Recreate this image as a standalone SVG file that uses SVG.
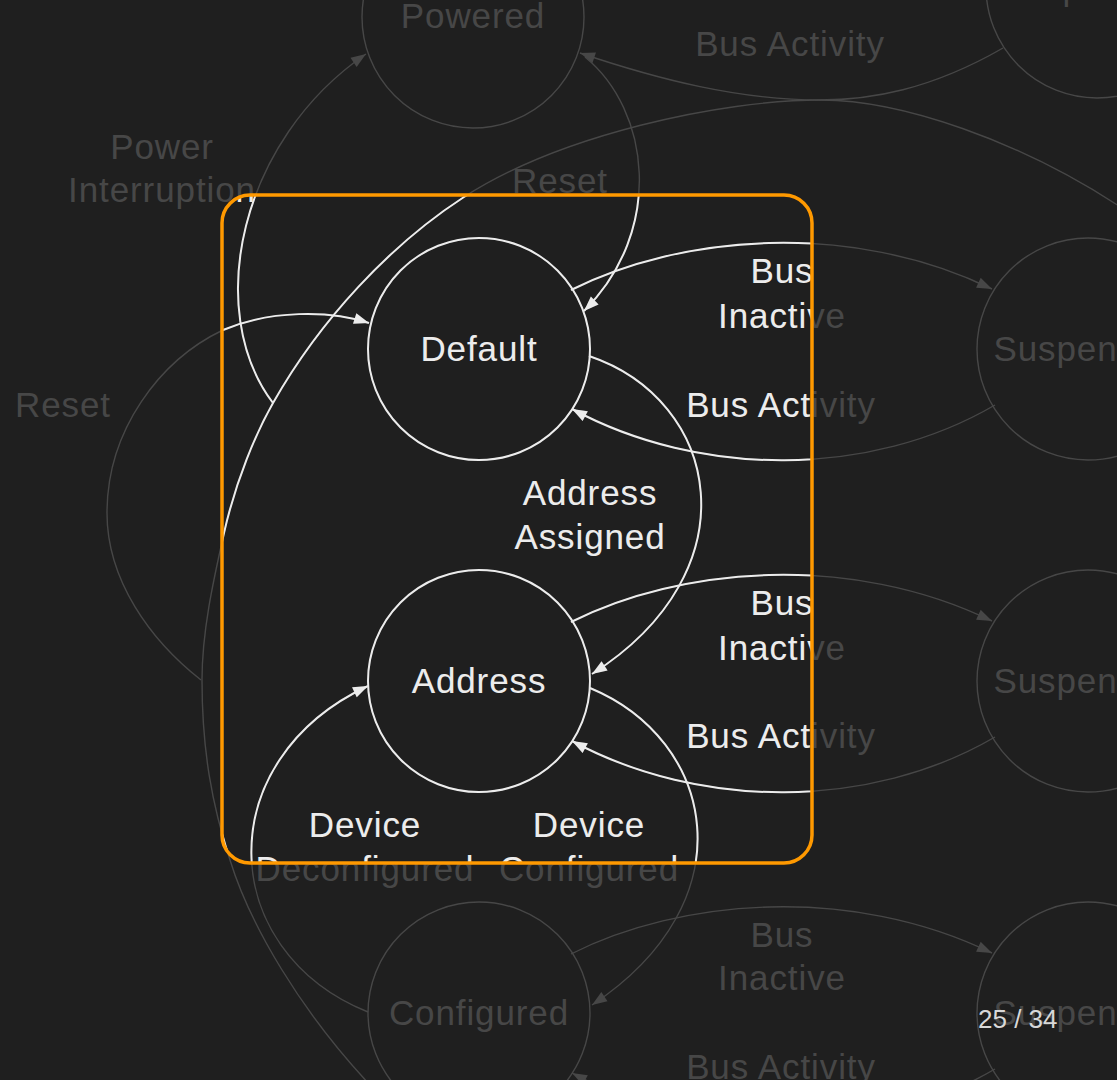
<svg xmlns="http://www.w3.org/2000/svg" xmlns:xlink="http://www.w3.org/1999/xlink" width="1117" height="1080" viewBox="0 0 1117 1080">
<defs>
<style>
.bg{fill:#1f1f1f}
.st{fill:none;stroke:currentColor}
.tx{fill:currentColor;stroke:none;font-family:"Liberation Sans",Arial,Helvetica,sans-serif;font-size:35px;letter-spacing:0.9px;text-anchor:middle}
.hl{fill:none;stroke:#ff9900;stroke-width:3.5}
.pg{fill:#d8d8d8;font-family:"Liberation Sans",Arial,Helvetica,sans-serif;font-size:26px}
</style>
<path id="ah" d="M0,0 L-15,-5.5 L-15,5.5 Z"/>
<clipPath id="hlclip"><rect x="222" y="195" width="590" height="668" rx="28"/></clipPath>
</defs>
<rect class="bg" x="0" y="0" width="1117" height="1080"/>
<g id="dimLayer" color="#474747" stroke-width="1.4">
<g id="diagram">
<g id="connectors">
<path class="st" d="M273,403 C203,310 240,140 366,54"/>
<use href="#ah" fill="currentColor" transform="translate(366,54) rotate(-34)"/>
<path class="st" d="M585,57 C650,110 665,230 584,311"/>
<use href="#ah" fill="currentColor" transform="translate(584,311) rotate(135.7)"/>
<path class="st" d="M1003,48 C930,90 870,100 820,100 C740,100 660,80 580,53"/>
<use href="#ah" fill="currentColor" transform="translate(580,53) rotate(198.6)"/>
<path class="st" d="M1125,210 C1020,140 900,100 821,100 C720,100 560,135 464,197 C390,245 320,320 273,403 C256,433 236,480 224,533 C214,578 202,630 202,680 C202,750 212,805 230,860 C250,925 300,1010 370,1085"/>
<path class="st" d="M201,680 C150,640 107,580 107,513 C107,430 160,360 223,330 C270,310 330,310 369,323"/>
<use href="#ah" fill="currentColor" transform="translate(369,323) rotate(17.5)"/>
<path class="st" d="M571,290 C680,235 850,220 992,289"/>
<use href="#ah" fill="currentColor" transform="translate(992,289) rotate(24.9)"/>
<path class="st" d="M995,405 C870,478 700,478 572,409"/>
<use href="#ah" fill="currentColor" transform="translate(572,409) rotate(208.3)"/>
<path class="st" d="M589,356 C720,400 755,570 592,674"/>
<use href="#ah" fill="currentColor" transform="translate(592,674) rotate(147)"/>
<path class="st" d="M571,622 C680,567 850,552 992,621"/>
<use href="#ah" fill="currentColor" transform="translate(992,621) rotate(24.9)"/>
<path class="st" d="M995,737 C870,810 700,810 572,741"/>
<use href="#ah" fill="currentColor" transform="translate(572,741) rotate(208.3)"/>
<path class="st" d="M590,688 C715,740 750,900 592,1005"/>
<use href="#ah" fill="currentColor" transform="translate(592,1005) rotate(146)"/>
<path class="st" d="M368,1012 C215,950 210,760 368,686"/>
<use href="#ah" fill="currentColor" transform="translate(368,686) rotate(-25)"/>
<path class="st" d="M571,954 C680,899 850,884 992,953"/>
<use href="#ah" fill="currentColor" transform="translate(992,953) rotate(24.9)"/>
<path class="st" d="M995,1069 C870,1142 700,1142 572,1073"/>
<use href="#ah" fill="currentColor" transform="translate(572,1073) rotate(208.3)"/>
<g id="labels">
<text class="tx" x="790" y="56">Bus Activity</text>
<text class="tx" x="162" y="159">Power</text>
<text class="tx" x="162" y="202">Interruption</text>
<text class="tx" x="560" y="193">Reset</text>
<text class="tx" x="63" y="417">Reset</text>
<text class="tx" x="782" y="283">Bus</text>
<text class="tx" x="782" y="328">Inactive</text>
<text class="tx" x="781" y="417">Bus Activity</text>
<text class="tx" x="590" y="505">Address</text>
<text class="tx" x="590" y="549">Assigned</text>
<text class="tx" x="782" y="615">Bus</text>
<text class="tx" x="782" y="660">Inactive</text>
<text class="tx" x="781" y="748">Bus Activity</text>
<text class="tx" x="365" y="837">Device</text>
<text class="tx" x="365" y="881">Deconfigured</text>
<text class="tx" x="589" y="837">Device</text>
<text class="tx" x="589" y="881">Configured</text>
<text class="tx" x="782" y="947">Bus</text>
<text class="tx" x="782" y="990">Inactive</text>
<text class="tx" x="781" y="1079">Bus Activity</text>
</g>
</g>
<g id="node-powered"><circle class="st" cx="473" cy="17" r="111"/><text class="tx" x="473" y="28">Powered</text></g>
<g id="node-default"><circle class="st" cx="479" cy="349" r="111"/><text class="tx" x="479" y="361">Default</text></g>
<g id="node-address"><circle class="st" cx="479" cy="681" r="111"/><text class="tx" x="479" y="693">Address</text></g>
<g id="node-configured"><circle class="st" cx="479" cy="1013" r="111"/><text class="tx" x="479" y="1025">Configured</text></g>
<g id="node-suspended-0"><circle class="st" cx="1097" cy="-13" r="111"/><text class="tx" x="1092" y="0">Suspended</text></g>
<g id="node-suspended-1"><circle class="st" cx="1088" cy="349" r="111"/><text class="tx" x="1086" y="361">Suspended</text></g>
<g id="node-suspended-2"><circle class="st" cx="1088" cy="681" r="111"/><text class="tx" x="1086" y="693">Suspended</text></g>
<g id="node-suspended-3"><circle class="st" cx="1088" cy="1013" r="111"/><text class="tx" x="1086" y="1025">Suspended</text></g>
</g>
</g>
<use href="#diagram" color="#ececec" stroke-width="2" clip-path="url(#hlclip)"/>
<rect id="highlight" class="hl" x="222" y="195" width="590" height="668" rx="28"/>
<text id="page-number" class="pg" x="978" y="1028">25 / 34</text>
</svg>
